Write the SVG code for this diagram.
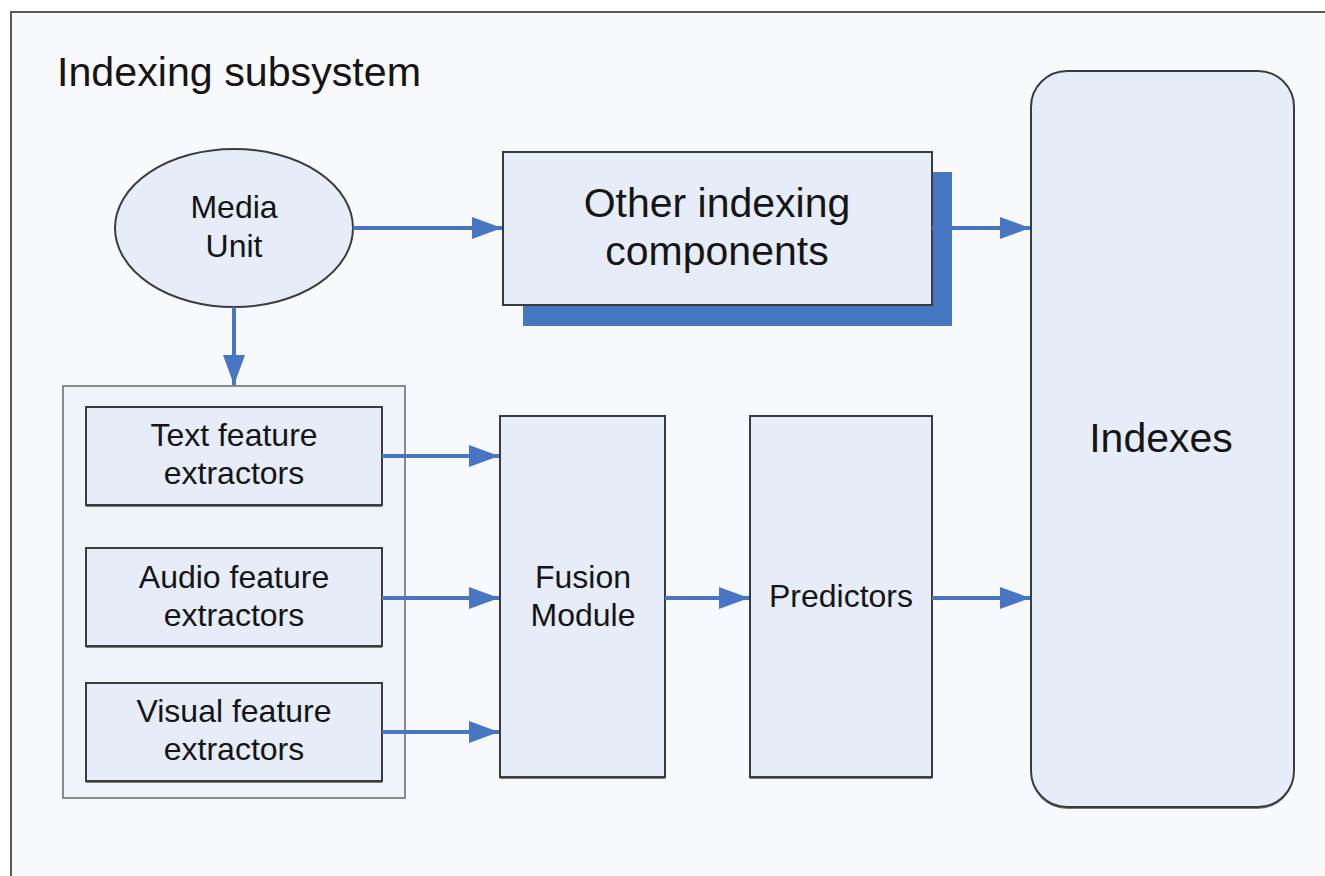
<svg xmlns="http://www.w3.org/2000/svg" width="1325" height="876" viewBox="0 0 1325 876">
<style>
.node{fill:#e6edf8;stroke:#3c3c3c;stroke-width:2}
.shd{fill:#7a7a7a}
.lbl{font-family:"Liberation Sans",Arial,sans-serif;fill:#151515;text-anchor:middle}
.s{font-size:32px}
.l{font-size:41px}
.con{stroke:#4876c2;stroke-width:4;fill:none;marker-end:url(#ah)}
</style>
<defs>
<marker id="ah" markerUnits="userSpaceOnUse" markerWidth="30" markerHeight="22" refX="30" refY="11" orient="auto">
<path d="M0,0 L30,11 L0,22 Z" fill="#4876c2"/>
</marker>
</defs>
<rect x="0" y="0" width="1325" height="876" fill="#ffffff"/>
<g id="frame">
<rect x="11" y="12" width="1330" height="880" fill="#f7f9fc" stroke="#5a5a5a" stroke-width="2"/>
<text class="lbl" x="57" y="86" style="text-anchor:start;font-size:41.2px">Indexing subsystem</text>
</g>
<g id="media-unit">
<ellipse cx="234" cy="228" rx="119" ry="79" class="node" stroke-width="1.5"/>
<text class="lbl s" x="234" y="218">Media</text>
<text class="lbl s" x="234" y="257">Unit</text>
</g>
<g id="other-indexing">
<rect x="523" y="172" width="429" height="154" fill="#4677c2"/>
<rect x="503" y="152" width="429" height="153" class="node"/>
<text class="lbl l" x="717" y="217">Other indexing</text>
<text class="lbl l" x="717" y="265">components</text>
</g>
<g id="indexes">
<rect x="1031" y="73" width="263" height="736" rx="36" ry="36" class="shd"/>
<rect x="1031" y="71" width="263" height="736" rx="36" ry="36" class="node"/>
<text class="lbl l" x="1161" y="452">Indexes</text>
</g>
<g id="extractors">
<rect x="63" y="386" width="342" height="412" fill="#eff3fa" stroke="#8a8a8a" stroke-width="2"/>
<g id="text-extractors">
<rect x="86" y="409" width="296" height="98" class="shd"/>
<rect x="86" y="407" width="296" height="98" class="node"/>
<text class="lbl s" x="234" y="446">Text feature</text>
<text class="lbl s" x="234" y="484">extractors</text>
</g>
<g id="audio-extractors">
<rect x="86" y="550" width="296" height="98" class="shd"/>
<rect x="86" y="548" width="296" height="98" class="node"/>
<text class="lbl s" x="234" y="588">Audio feature</text>
<text class="lbl s" x="234" y="626">extractors</text>
</g>
<g id="visual-extractors">
<rect x="86" y="685" width="296" height="98" class="shd"/>
<rect x="86" y="683" width="296" height="98" class="node"/>
<text class="lbl s" x="234" y="722">Visual feature</text>
<text class="lbl s" x="234" y="760">extractors</text>
</g>
</g>
<g id="fusion">
<rect x="500" y="418" width="165" height="361" class="shd"/>
<rect x="500" y="416" width="165" height="361" class="node"/>
<text class="lbl s" x="583" y="588">Fusion</text>
<text class="lbl s" x="583" y="626">Module</text>
</g>
<g id="predictors">
<rect x="750" y="418" width="182" height="361" class="shd"/>
<rect x="750" y="416" width="182" height="361" class="node"/>
<text class="lbl s" x="841" y="607">Predictors</text>
</g>
<g id="connectors">
<line class="con" x1="353" y1="228" x2="502" y2="228"/>
<line class="con" x1="932" y1="228" x2="1030" y2="228"/>
<line class="con" x1="234" y1="307" x2="234" y2="385"/>
<line class="con" x1="382" y1="456" x2="499" y2="456"/>
<line class="con" x1="382" y1="598" x2="499" y2="598"/>
<line class="con" x1="382" y1="732" x2="499" y2="732"/>
<line class="con" x1="665" y1="598" x2="749" y2="598"/>
<line class="con" x1="932" y1="598" x2="1030" y2="598"/>
</g>
</svg>
